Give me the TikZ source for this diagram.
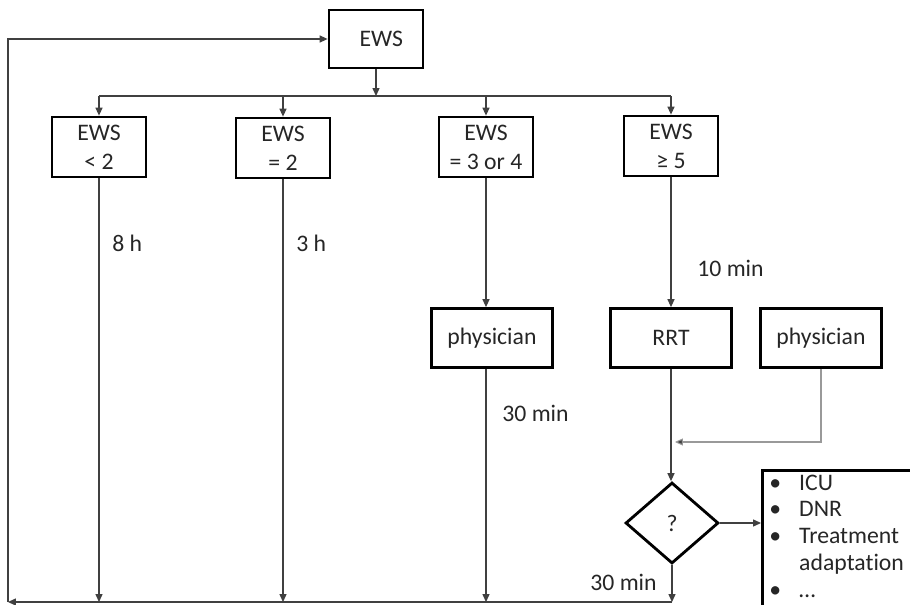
\documentclass[tikz,border=0pt]{standalone}
\usepackage{fontspec}
\setmainfont{Carlito}[Ligatures=NoCommon]
\usetikzlibrary{arrows.meta,shapes.geometric}
\begin{document}
\begin{tikzpicture}[x=0.02cm,y=-0.02cm,
  box/.style={draw=black,line width=1.6pt,rectangle,minimum width=1.88cm,minimum height=1.2cm,
    align=center,inner sep=1pt,font=\fontsize{13.5}{16.5}\selectfont,text=black!85},
  wbox/.style={box,minimum width=2.42cm,minimum height=1.18cm},
  conn/.style={line width=0.6pt,draw=black!75},
  arr/.style={conn,-{Triangle[length=4.5pt,width=4pt]}},
  garr/.style={line width=0.6pt,draw=black!40,-{Triangle[length=4.5pt,width=4pt,fill=black!75]}},
  lbl/.style={anchor=west,inner sep=0pt,font=\fontsize{13.5}{15}\selectfont,text=black!85}]
\useasboundingbox (0,0) rectangle (910,605);
\clip (0,0) rectangle (910,605);

% nodes
\node[box,minimum height=1.16cm] (top) at (376,39) {\hspace*{6pt}EWS};
\node[box] (e1) at (99,147) {EWS\\< 2};
\node[box] (e2) at (283,148) {EWS\\= 2};
\node[box] (e3) at (486,147) {EWS\\= 3 or 4};
\node[box] (e4) at (671,146) {EWS\\≥ 5};
\node[wbox] (ph1) at (492,338) {physician};
\node[wbox] (rrt) at (671,338) {RRT};
\node[wbox] (ph2) at (821,338) {physician};
\node[draw=black,line width=1.6pt,diamond,minimum width=1.86cm,minimum height=1.62cm,inner sep=0pt,
  font=\fontsize{13.5}{15}\selectfont,text=black!85] (q) at (672,523) {?};
\node[draw=black,line width=1.6pt,anchor=north west,minimum width=3.6cm,minimum height=3.2cm,inner sep=0pt] (list) at (761,469) {};
\node[anchor=base west,inner sep=0pt,font=\fontsize{13.5}{15.3}\selectfont,text=black!85] (listtext) at (769,490)
  {\begin{tabular}[t]{@{}p{17pt}@{}l@{}}•&ICU\\•&DNR\\•&Treatment\\&adaptation\\•&…\end{tabular}};

% labels
\node[lbl] (l8) at (112,243) {8 h};
\node[lbl] (l3) at (296,243) {3 h};
\node[lbl] (l10) at (697,268) {10 min};
\node[lbl] (l30a) at (502,413) {30 min};
\node[lbl] (l30b) at (590,582) {30 min};

% coordinates
\coordinate (jn) at (376,96);
\coordinate (bot) at (0,602);
\coordinate (lb) at (8,602);
\coordinate (lt) at (8,39);
\coordinate (mj) at (675,442);

% connectors
\draw[arr] (top.south) -- (top.south |- jn);
\draw[conn] (e1.north |- jn) -- (e4.north |- jn);
\foreach \e in {e1,e2,e3,e4} \draw[arr] (\e.north |- jn) -- (\e.north);
\draw[arr] (e1.south) -- (e1.south |- bot);
\draw[arr] (e2.south) -- (e2.south |- bot);
\draw[arr] (e3.south) -- (e3.south |- ph1.north);
\draw[arr] (e3.south |- ph1.south) -- (e3.south |- bot);
\draw[arr] (e4.south) -- (rrt.north);
\draw[arr] (rrt.south) -- (rrt.south |- q.north);
\draw[garr] (ph2.south) -- (ph2.south |- mj) -- (mj);
\draw[arr] (q.east) -- (q.east -| list.west);
\draw[arr] (q.south) -- (q.south |- bot);
\draw[arr] (q.south |- bot) -- (lb);
\draw[arr] (lb) -- (lt) -- (top.west);
\end{tikzpicture}
\end{document}
